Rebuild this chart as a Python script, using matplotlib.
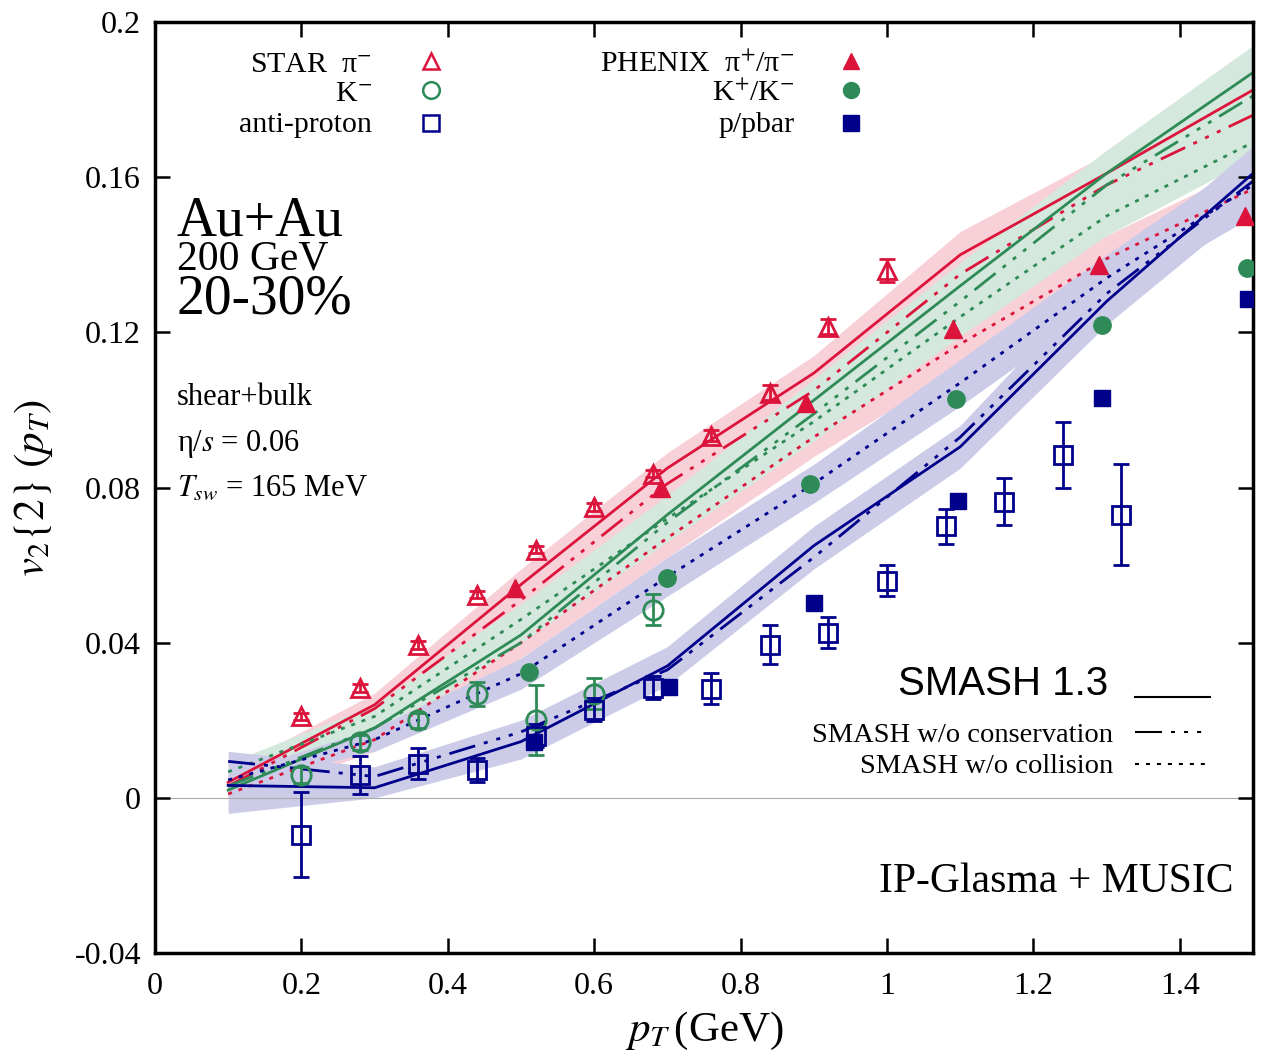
import numpy as np
import matplotlib
matplotlib.use("Agg")
import matplotlib.pyplot as plt

plt.rcParams['font.family'] = ['Liberation Serif', 'DejaVu Serif']
plt.rcParams['mathtext.fontset'] = 'stix'
plt.rcParams['lines.scale_dashes'] = False

# ---- SMASH afterburner curves (pT grid) ----
pt = [0.1, 0.3, 0.5, 0.7, 0.9, 1.1, 1.3, 1.5]

pi_full = [0.004, 0.024, 0.055, 0.085, 0.1095, 0.140, 0.161, 0.1825]
pi_nocons = [0.003, 0.023, 0.051, 0.081, 0.105, 0.135, 0.158, 0.176]
pi_nocoll = [0.001, 0.015, 0.040, 0.067, 0.093, 0.117, 0.139, 0.157]

k_full = [0.002, 0.018, 0.042, 0.073, 0.1025, 0.132, 0.161, 0.187]
k_nocons = [0.003, 0.018, 0.040, 0.071, 0.099, 0.128, 0.158, 0.181]
k_nocoll = [0.0067, 0.021, 0.046, 0.072, 0.097, 0.124, 0.150, 0.169]

p_full = [0.0032, 0.0026, 0.0145, 0.034, 0.065, 0.0905, 0.128, 0.161]
p_nocons = [0.0094, 0.0055, 0.017, 0.033, 0.062, 0.093, 0.130, 0.159]
p_nocoll = [0.0046, 0.015, 0.032, 0.057, 0.081, 0.107, 0.134, 0.158]

# statistical bands
pi_band_lo = [0.001, 0.020, 0.048, 0.077, 0.101, 0.131, 0.153, 0.172]
pi_band_hi = [0.007, 0.027, 0.059, 0.089, 0.114, 0.146, 0.166, 0.187]
pi_coll_lo = [-0.001, 0.012, 0.036, 0.062, 0.088, 0.111, 0.133, 0.151]
pi_coll_hi = [0.003, 0.018, 0.044, 0.072, 0.098, 0.123, 0.145, 0.163]
k_band_lo = [0.000, 0.015, 0.040, 0.066, 0.092, 0.119, 0.145, 0.165]
k_band_hi = [0.009, 0.024, 0.050, 0.078, 0.108, 0.138, 0.167, 0.194]
p_band_lo = [-0.004, 0.000, 0.010, 0.029, 0.059, 0.085, 0.122, 0.153]
p_band_hi = [0.012, 0.008, 0.020, 0.039, 0.070, 0.096, 0.136, 0.168]
p_coll_lo = [0.003, 0.012, 0.028, 0.052, 0.076, 0.101, 0.128, 0.150]
p_coll_hi = [0.006, 0.018, 0.036, 0.062, 0.086, 0.113, 0.140, 0.166]

# ---- STAR data ----
star_pi_x = [0.2, 0.28, 0.36, 0.44, 0.52, 0.6, 0.68, 0.76, 0.84, 0.92, 1.0]
star_pi_y = [0.021, 0.0284, 0.0395, 0.0524, 0.064, 0.075, 0.0836, 0.0934, 0.1045, 0.1215, 0.136]
star_pi_err = [0.001, 0.001, 0.001, 0.001, 0.001, 0.001, 0.001, 0.0015, 0.002, 0.002, 0.003]

star_k_x = [0.2, 0.28, 0.36, 0.44, 0.52, 0.6, 0.68]
star_k_y = [0.0059, 0.0143, 0.020, 0.0268, 0.020, 0.0268, 0.0485]
star_k_err = [0.002, 0.002, 0.002, 0.003, 0.009, 0.004, 0.004]

star_p_x = [0.2, 0.28, 0.36, 0.44, 0.52, 0.6, 0.68, 0.76, 0.84, 0.92, 1.0, 1.08, 1.16, 1.24, 1.32]
star_p_y = [-0.0095, 0.0059, 0.0088, 0.0072, 0.016, 0.0227, 0.0284, 0.0281, 0.0395, 0.0426,
            0.056, 0.070, 0.0764, 0.0885, 0.073]
star_p_err = [0.011, 0.005, 0.004, 0.003, 0.003, 0.003, 0.003, 0.004, 0.005, 0.004,
              0.004, 0.0045, 0.006, 0.0085, 0.013]

# ---- PHENIX data ----
phx_pi_x = [0.492, 0.691, 0.889, 1.09, 1.29, 1.489]
phx_pi_y = [0.054, 0.080, 0.1017, 0.121, 0.1375, 0.150]
phx_k_x = [0.511, 0.699, 0.895, 1.094, 1.294, 1.492]
phx_k_y = [0.0325, 0.0568, 0.081, 0.1027, 0.1218, 0.1365]
phx_p_x = [0.518, 0.702, 0.900, 1.097, 1.294, 1.493]
phx_p_y = [0.0145, 0.0286, 0.0503, 0.0766, 0.103, 0.1285]

xticks = [0, 0.2, 0.4, 0.6, 0.8, 1.0, 1.2, 1.4]
xticklabels = ['0', '0.2', '0.4', '0.6', '0.8', '1', '1.2', '1.4']
yticks = [-0.04, 0, 0.04, 0.08, 0.12, 0.16, 0.2]
yticklabels = ['-0.04', '0', '0.04', '0.08', '0.12', '0.16', '0.2']

red = '#DC143C'
green = '#2E8B57'
blue = '#00008B'
red_band = '#F8D0D8'
green_band = '#D5E8DD'
blue_band = '#CCCCE8'

dashdot = (0, (19.4, 6.5, 2.9, 6.5, 2.9, 6.5, 2.9, 6.5))
dotted = (0, (2.9, 5.0))
lw = 2.0

fig = plt.figure(figsize=(12.68, 10.57), dpi=100)
ax = fig.add_axes([0.1222, 0.0984, 0.866, 0.8807])

# bands
ax.fill_between(pt, pi_band_lo, pi_band_hi, color=red_band, lw=0)
ax.fill_between(pt, pi_coll_lo, pi_coll_hi, color=red_band, lw=0)
ax.fill_between(pt, k_band_lo, k_band_hi, color=green_band, lw=0)
ax.fill_between(pt, p_band_lo, p_band_hi, color=blue_band, lw=0)
ax.fill_between(pt, p_coll_lo, p_coll_hi, color=blue_band, lw=0)

ax.axhline(0, color='#aaaaaa', lw=0.8, zorder=1)

# curves
for c, full, nocons, nocoll in [(red, pi_full, pi_nocons, pi_nocoll),
                                (green, k_full, k_nocons, k_nocoll),
                                (blue, p_full, p_nocons, p_nocoll)]:
    ax.plot(pt, full, color=c, lw=lw)
    ax.plot(pt, nocons, color=c, lw=lw, linestyle=dashdot, dash_capstyle='butt')
    ax.plot(pt, nocoll, color=c, lw=lw, linestyle=dotted, dash_capstyle='butt')

# STAR open symbols
ebkw = dict(linestyle='none', capsize=5.5, elinewidth=2.0, capthick=2.0, mew=2.0,
            markerfacecolor='none', zorder=5)
ax.errorbar(star_pi_x, star_pi_y, yerr=star_pi_err, marker='^', ms=13, color=red, **ebkw)
ax.errorbar(star_k_x, star_k_y, yerr=star_k_err, marker='o', ms=14, color=green, **ebkw)
ax.errorbar(star_p_x, star_p_y, yerr=star_p_err, marker='s', ms=13, color=blue, **ebkw)

# PHENIX filled symbols
ax.plot(phx_pi_x, phx_pi_y, '^', color=red, ms=13, zorder=6)
ax.plot(phx_k_x, phx_k_y, 'o', color=green, ms=12.5, zorder=6)
ax.plot(phx_p_x, phx_p_y, 's', color=blue, ms=11.5, zorder=6)

ax.set_xlim(0, 1.5)
ax.set_ylim(-0.04, 0.2)
ax.set_xticks(xticks)
ax.set_xticklabels(xticklabels)
ax.set_yticks(yticks)
ax.set_yticklabels(yticklabels)
ax.tick_params(direction='in', length=11, width=1.8, labelsize=23,
               top=True, right=True)
ax.tick_params(axis='x', pad=14)
ax.tick_params(axis='y', pad=10)
for s in ax.spines.values():
    s.set_linewidth(2.5)

ax.set_xlabel(r'$p_T\,$(GeV)', fontsize=31, labelpad=6)
ax.set_ylabel(r'$v_2\{2\}\ (p_T)$', fontsize=31, labelpad=14)

# experiment legend
leg_y_txt = [0.1871, 0.1796, 0.1716]
leg_y_mk = [0.1899, 0.1824, 0.1739]
star_labels = [r'STAR  π$^{-}$', r'K$^{-}$', 'anti-proton']
phx_labels = [r'PHENIX  π$^{+}$/π$^{-}$', r'K$^{+}$/K$^{-}$', 'p/pbar']
cols = [red, green, blue]
mks = ['^', 'o', 's']
for i in range(3):
    ax.text(0.2964, leg_y_txt[i], star_labels[i], ha='right', va='baseline', fontsize=21.5)
    ax.text(0.874, leg_y_txt[i], phx_labels[i], ha='right', va='baseline', fontsize=21.5)
    ax.plot([0.377], [leg_y_mk[i]], mks[i], color=cols[i], ms=11 if i != 1 else 12,
            mfc='none', mew=1.8)
    ax.plot([0.951], [leg_y_mk[i]], mks[i], color=cols[i], ms=11.5)

# system labels
ax.text(0.030, 0.145, 'Au+Au', fontsize=40, va='baseline')
ax.text(0.030, 0.1363, '200 GeV', fontsize=30, va='baseline')
ax.text(0.030, 0.1249, '20-30%', fontsize=40, va='baseline')
ax.text(0.030, 0.1012, 'shear+bulk', fontsize=22, va='baseline')
ax.text(0.030, 0.0893, r'η/$s$ = 0.06', fontsize=22, va='baseline')
ax.text(0.030, 0.0779, r'$T_{sw}$ = 165 MeV', fontsize=22, va='baseline')

# model legend
ax.text(1.302, 0.0266, 'SMASH 1.3', fontsize=29, ha='right', va='baseline',
        family='Liberation Sans')
ax.plot([1.339, 1.441], [0.0261, 0.0261], color='black', lw=1.5)
ax.text(1.309, 0.01445, 'SMASH w/o conservation', fontsize=20.5, ha='right', va='baseline')
ax.plot([1.339, 1.441], [0.017, 0.017], color='black', lw=1.5, linestyle=dashdot,
        dash_capstyle='butt')
ax.text(1.309, 0.00645, 'SMASH w/o collision', fontsize=20.5, ha='right', va='baseline')
ax.plot([1.339, 1.441], [0.0088, 0.0088], color='black', lw=1.5, linestyle=dotted,
        dash_capstyle='butt')

ax.text(1.4727, -0.0243, 'IP-Glasma + MUSIC', fontsize=30, ha='right', va='baseline')

fig.savefig('out.png', dpi=100)
